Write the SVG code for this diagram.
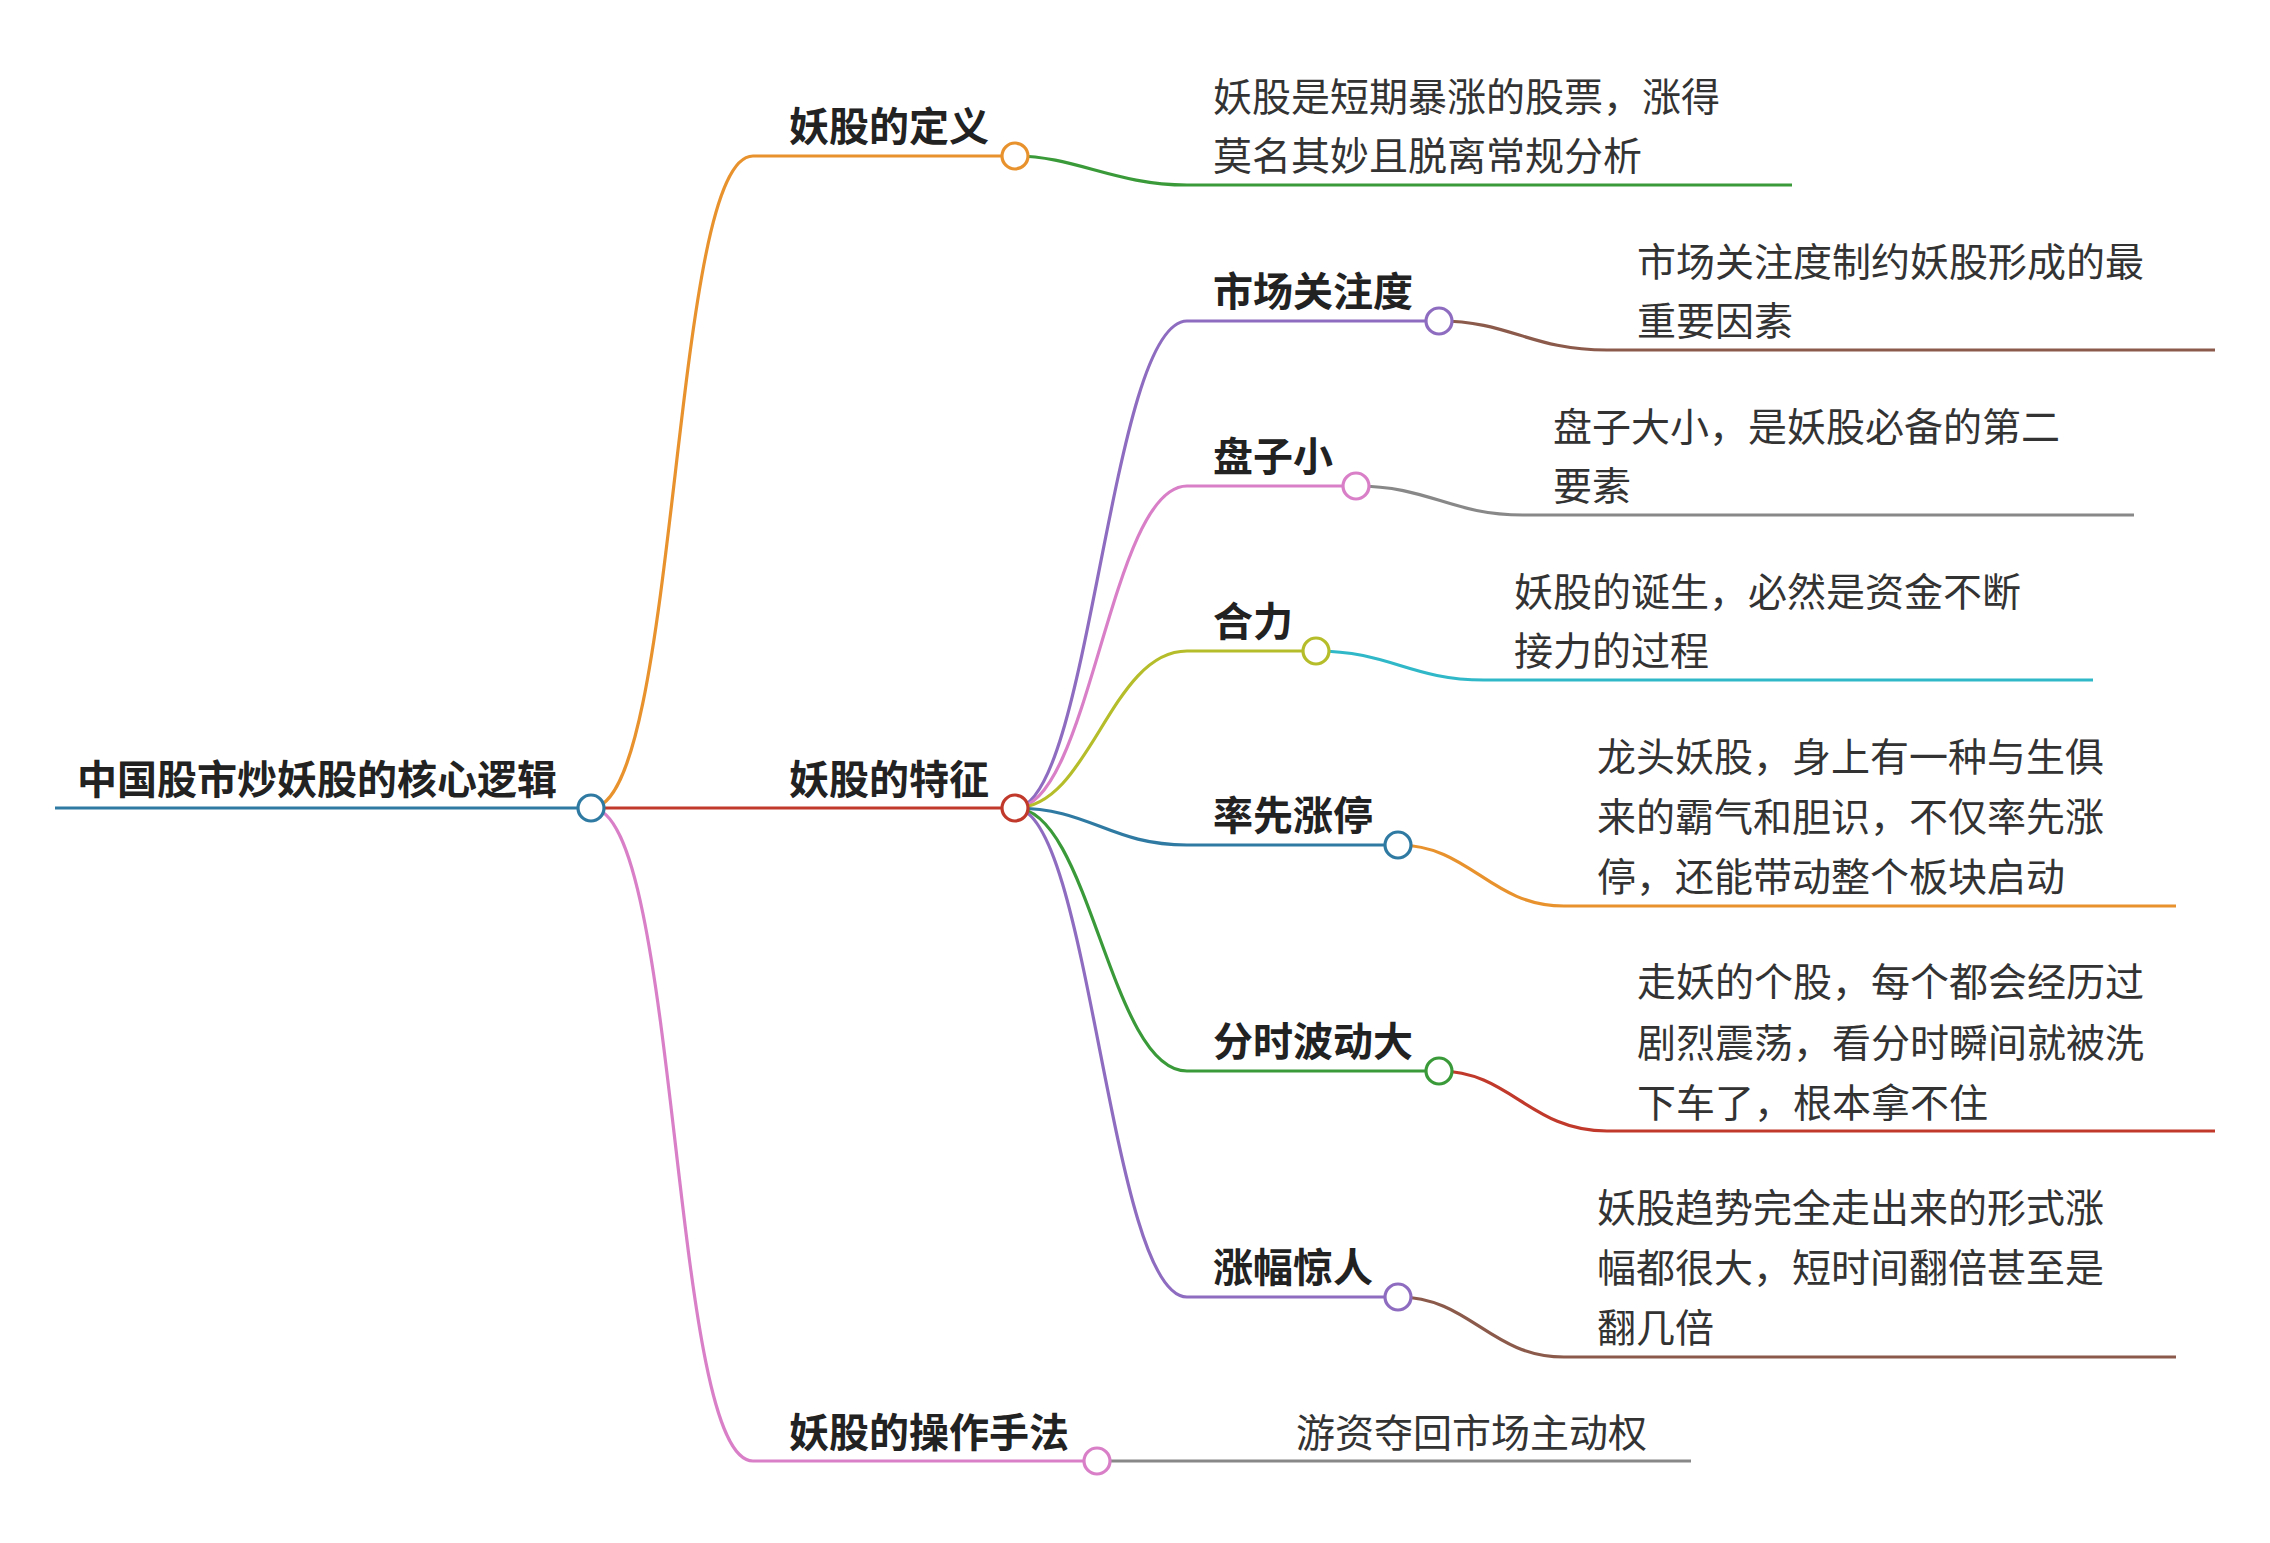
<svg xmlns="http://www.w3.org/2000/svg" width="2270" height="1543" viewBox="0 0 2270 1543">
<style>
.c{fill:none;stroke-width:3.2}
.n{fill:#fff;stroke-width:3.2}
.b{font-family:"Liberation Sans","Noto Sans CJK SC",sans-serif;font-weight:bold;font-size:40px;fill:#222}
.t{font-family:"Liberation Sans","Noto Sans CJK SC",sans-serif;font-size:39px;fill:#333}
</style>
<rect width="2270" height="1543" fill="#fff"/>
<g id="connectors">
<path class="c" stroke="#2f7aa3" d="M55,808 L591,808"/>
<path class="c" stroke="#e8922e" d="M591,808 C680,808 670,156 753,156 L1015,156"/>
<path class="c" stroke="#c0392b" d="M591,808 L1015,808"/>
<path class="c" stroke="#d87fc8" d="M591,808 C680,808 670,1461 753,1461 L1097,1461"/>
<path class="c" stroke="#3a9a3a" d="M1015,156 C1075,156 1115,185 1187,185 L1792,185"/>
<path class="c" stroke="#8e6cc0" d="M1015,808 C1090,808 1110,321 1187,321 L1439,321"/>
<path class="c" stroke="#d87fc8" d="M1015,808 C1090,808 1110,486 1187,486 L1356,486"/>
<path class="c" stroke="#b5bd2a" d="M1015,808 C1090,808 1110,651 1187,651 L1316,651"/>
<path class="c" stroke="#2f7aa3" d="M1015,808 C1090,808 1110,845 1187,845 L1398,845"/>
<path class="c" stroke="#3a9a3a" d="M1015,808 C1090,808 1110,1071 1187,1071 L1439,1071"/>
<path class="c" stroke="#8e6cc0" d="M1015,808 C1090,808 1110,1297 1187,1297 L1398,1297"/>
<path class="c" stroke="#8b5a4a" d="M1439,321 C1510,321 1530,350 1607,350 L2215,350"/>
<path class="c" stroke="#888" d="M1356,486 C1430,486 1450,515 1523,515 L2134,515"/>
<path class="c" stroke="#30b8c8" d="M1316,651 C1390,651 1410,680 1484,680 L2093,680"/>
<path class="c" stroke="#e8922e" d="M1398,845 C1470,845 1490,906 1564,906 L2176,906"/>
<path class="c" stroke="#c0392b" d="M1439,1071 C1510,1071 1530,1131 1607,1131 L2215,1131"/>
<path class="c" stroke="#8b5a4a" d="M1398,1297 C1470,1297 1490,1357 1564,1357 L2176,1357"/>
<path class="c" stroke="#888" d="M1097,1461 L1691,1461"/>
</g>
<g id="root"><text class="b" x="77" y="794">中国股市炒妖股的核心逻辑</text><circle class="n" stroke="#2f7aa3" cx="591" cy="808" r="13"/></g>
<g id="def"><text class="b" x="789" y="141">妖股的定义</text><circle class="n" stroke="#e8922e" cx="1015" cy="156" r="13"/>
<text class="t" x="1213" y="111">妖股是短期暴涨的股票，涨得</text><text class="t" x="1213" y="170">莫名其妙且脱离常规分析</text></g>
<g id="feat"><text class="b" x="789" y="794">妖股的特征</text><circle class="n" stroke="#c0392b" cx="1015" cy="808" r="13"/></g>
<g id="op"><text class="b" x="789" y="1447">妖股的操作手法</text><circle class="n" stroke="#d87fc8" cx="1097" cy="1461" r="13"/>
<text class="t" x="1296" y="1447">游资夺回市场主动权</text></g>
<g id="n1"><text class="b" x="1213" y="306">市场关注度</text><circle class="n" stroke="#8e6cc0" cx="1439" cy="321" r="13"/>
<text class="t" x="1637" y="276">市场关注度制约妖股形成的最</text><text class="t" x="1637" y="335">重要因素</text></g>
<g id="n2"><text class="b" x="1213" y="471">盘子小</text><circle class="n" stroke="#d87fc8" cx="1356" cy="486" r="13"/>
<text class="t" x="1553" y="441">盘子大小，是妖股必备的第二</text><text class="t" x="1553" y="500">要素</text></g>
<g id="n3"><text class="b" x="1213" y="636">合力</text><circle class="n" stroke="#b5bd2a" cx="1316" cy="651" r="13"/>
<text class="t" x="1514" y="606">妖股的诞生，必然是资金不断</text><text class="t" x="1514" y="665">接力的过程</text></g>
<g id="n4"><text class="b" x="1213" y="830">率先涨停</text><circle class="n" stroke="#2f7aa3" cx="1398" cy="845" r="13"/>
<text class="t" x="1597" y="771">龙头妖股，身上有一种与生俱</text><text class="t" x="1597" y="831">来的霸气和胆识，不仅率先涨</text><text class="t" x="1597" y="891">停，还能带动整个板块启动</text></g>
<g id="n5"><text class="b" x="1213" y="1056">分时波动大</text><circle class="n" stroke="#3a9a3a" cx="1439" cy="1071" r="13"/>
<text class="t" x="1637" y="996">走妖的个股，每个都会经历过</text><text class="t" x="1637" y="1057">剧烈震荡，看分时瞬间就被洗</text><text class="t" x="1637" y="1117">下车了，根本拿不住</text></g>
<g id="n6"><text class="b" x="1213" y="1282">涨幅惊人</text><circle class="n" stroke="#8e6cc0" cx="1398" cy="1297" r="13"/>
<text class="t" x="1597" y="1222">妖股趋势完全走出来的形式涨</text><text class="t" x="1597" y="1282">幅都很大，短时间翻倍甚至是</text><text class="t" x="1597" y="1342">翻几倍</text></g>
</svg>
